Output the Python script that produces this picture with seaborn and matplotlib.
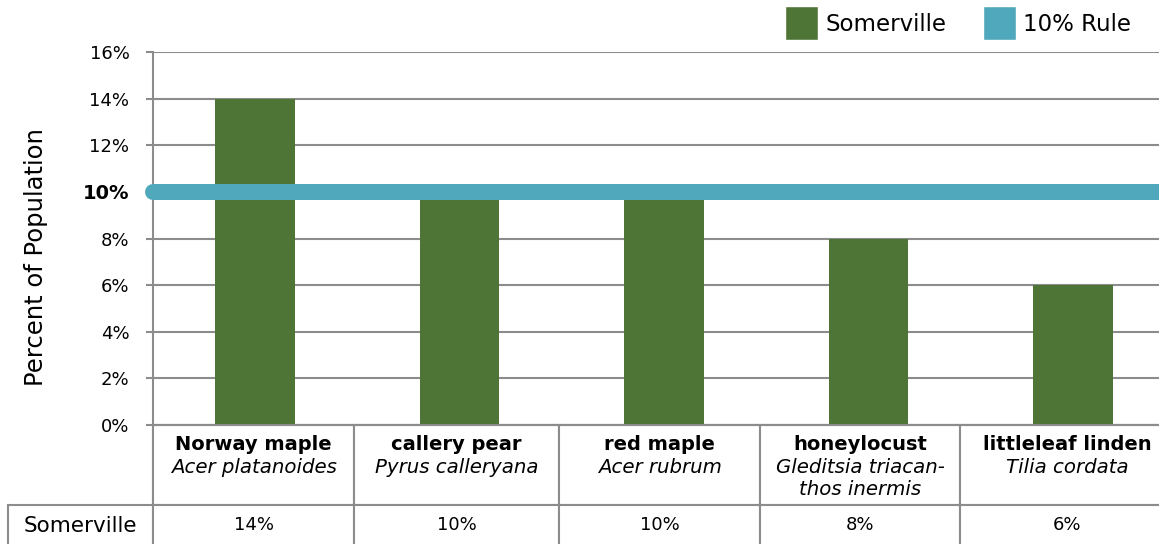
import matplotlib.pyplot as plt
import seaborn as sns
from matplotlib.patches import Patch
from matplotlib.table import Table

# data
common_names = ['Norway maple', 'callery pear', 'red maple', 'honeylocust', 'littleleaf linden']
sci_names = ['Acer platanoides', 'Pyrus calleryana', 'Acer rubrum',
             'Gleditsia triacan-\nthos inermis', 'Tilia cordata']
somerville = [14, 10, 10, 8, 6]
rule_value = 10
y_ticks = [0, 2, 4, 6, 8, 10, 12, 14, 16]
series_names = ['Somerville', '10% Rule']

green = '#4f7536'
blue = '#4fa8bc'
grey = '#8c8c8c'

sns.set_theme(style='white')
plt.rcParams['font.family'] = ['DejaVu Sans']
plt.rcParams['text.color'] = 'black'

W, H = 1159, 544
fig = plt.figure(figsize=(W / 100, H / 100), dpi=100)
# axes box in pixels: left 153, bottom y 425, top y 52, right 1175
ax_l, ax_r, ax_top, ax_bot = 153, 1175, 52, 425
ax = fig.add_axes([ax_l / W, (H - ax_bot) / H, (ax_r - ax_l) / W, (ax_bot - ax_top) / H])


def px_x(px):
    return (px - ax_l) / (ax_r - ax_l)


def px_y(py):
    return (ax_bot - py) / (ax_bot - ax_top)


sns.barplot(x=common_names, y=somerville, color=green, saturation=1, width=0.39,
            linewidth=0, ax=ax, zorder=2)
ax.axhline(rule_value, color=blue, lw=11.5, solid_capstyle='round', clip_on=False, zorder=4)

ax.set_xlim(-0.5, len(common_names) - 0.5)
ax.set_ylim(0, 16)
ax.set_yticks(y_ticks)
ax.set_yticklabels([f'{v}%' for v in y_ticks])
for lab, v in zip(ax.get_yticklabels(), y_ticks):
    if v == rule_value:
        lab.set_fontweight('bold')
        lab.set_fontsize(14)
    else:
        lab.set_fontsize(13)
ax.set_xticks([])
ax.set_xlabel('')
ax.yaxis.grid(True, color=grey, lw=1.5, zorder=0)
ax.set_axisbelow(True)
for s in ['top', 'right']:
    ax.spines[s].set_visible(False)
for s in ['left', 'bottom']:
    ax.spines[s].set_color(grey)
    ax.spines[s].set_linewidth(1.5)
ax.tick_params(axis='y', left=True, length=5, width=1.5, color=grey, pad=12, labelcolor='black')
ax.set_ylabel('Percent of Population', fontsize=17.5, color='black')
ax.yaxis.set_label_coords(px_x(48), px_y(257))

# table under the axis: column 0 holds the row labels
col_px = [8, 153, 354, 559, 760, 960, 1175]
row_px = [425, 505, 546]
tbl = Table(ax, bbox=[px_x(col_px[0]), px_y(row_px[-1]),
                      px_x(col_px[-1]) - px_x(col_px[0]), px_y(row_px[0]) - px_y(row_px[-1])])
tbl.auto_set_font_size(False)
rows = [[''] + [''] * len(common_names),
        ['Somerville'] + [f'{v}%' for v in somerville]]
for r, row in enumerate(rows):
    h = px_y(row_px[r]) - px_y(row_px[r + 1])
    for c, txt in enumerate(row):
        w = px_x(col_px[c + 1]) - px_x(col_px[c])
        cell = tbl.add_cell(r, c, w, h, text=txt, loc='center', edgecolor=grey)
        cell.set_linewidth(1.5)
        cell.get_text().set_fontsize(13)
        cell.get_text().set_color('black')
        if c == 0 and r == 0:
            cell.visible_edges = 'R'
        if c == 0 and r == 1:
            cell.get_text().set_fontsize(15.5)
tbl.set_clip_on(False)
ax.add_table(tbl)

for i, (cn, sn) in enumerate(zip(common_names, sci_names)):
    cx = (px_x(col_px[i + 1]) + px_x(col_px[i + 2])) / 2
    ax.text(cx, px_y(445), cn, transform=ax.transAxes, ha='center', va='center',
            fontsize=14, fontweight='bold', clip_on=False)
    ax.text(cx, px_y(458), sn, transform=ax.transAxes, ha='center', va='top',
            fontsize=14.2, fontstyle='italic', linespacing=1.2, clip_on=False)

handles = [Patch(facecolor=green), Patch(facecolor=blue)]
fig.legend(handles, series_names, loc='upper right', bbox_to_anchor=(1140 / W, 1.005),
           ncol=2, frameon=False, fontsize=16.5, handlelength=1.45, handleheight=1.9,
           handletextpad=0.3, columnspacing=1.6, borderaxespad=0.0)

fig.savefig('out.png', dpi=100)
